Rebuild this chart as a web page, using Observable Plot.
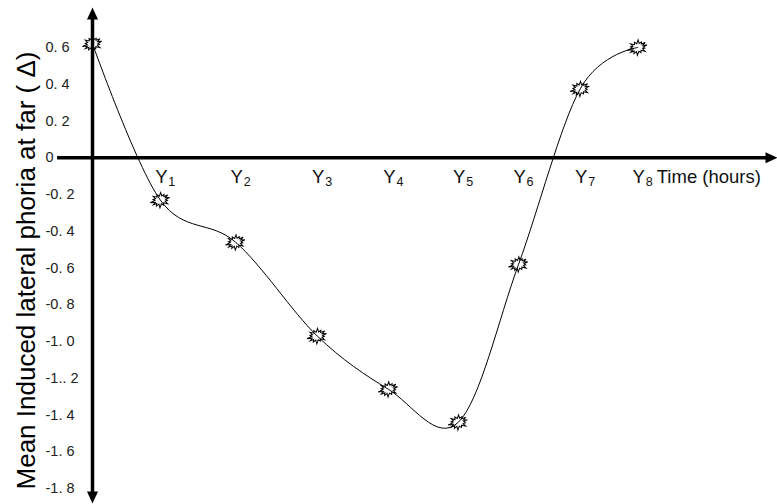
<!DOCTYPE html>
<html>
<head>
<meta charset="utf-8">
<script src="https://cdn.jsdelivr.net/npm/d3@7"></script>
<script src="https://cdn.jsdelivr.net/npm/@observablehq/plot@0.6"></script>
<style>
  html, body { margin: 0; padding: 0; background: #fff; }
  svg { display: block; }
</style>
</head>
<body>
<div id="chart"></div>
<script>
// ---- data ----
const times = [0, 0.99, 2.09, 3.28, 4.32, 5.34, 6.22, 7.12, 7.96];
const phoria = [0.62, -0.23, -0.46, -0.97, -1.26, -1.44, -0.58, 0.375, 0.60];
const timeLabels = ["", "1", "2", "3", "4", "5", "6", "7", "8"];
const yTickValues = [0.6, 0.4, 0.2, 0, -0.2, -0.4, -0.6, -0.8, -1.0, -1.2, -1.4, -1.6, -1.8];
const yTickLabels = ["0. 6", "0. 4", "0. 2", "0", "-0. 2", "-0. 4", "-0. 6", "-0. 8", "-1. 0", "-1.. 2", "-1. 4", "-1. 6", "-1. 8"];
const xAxisExtent = [-0.51, 10];
const yAxisExtent = [-1.882, 0.818];
const xTitle = "Time (hours)";
const yTitle = "Mean Induced lateral phoria at far ( \u0394)";

const points = times.map((t, i) => ({t, v: phoria[i], label: timeLabels[i]}));
const labelled = points.filter(d => d.label !== "");

const font = "Arial, 'Liberation Sans', sans-serif";

// starburst marker symbol
const burst = {
  draw(ctx, size) {
    const r = Math.sqrt(size / Math.PI);
    const n = 14;
    const jit = [1, 0.78, 1.05, 0.86, 1.12, 0.9, 0.95, 1.1, 0.8, 1.02, 0.9, 1.08, 0.84, 1];
    for (let i = 0; i < 2 * n; i++) {
      const a = (i * Math.PI) / n;
      const rad = i % 2 === 0 ? r * jit[i / 2] : r * 0.58;
      const x = rad * Math.cos(a), y = rad * Math.sin(a) * 0.72;
      if (i === 0) ctx.moveTo(x, y); else ctx.lineTo(x, y);
    }
    ctx.closePath();
  }
};
// arrowhead symbol: tip at origin, pointing up
const arrowHead = {
  draw(ctx, size) {
    const s = Math.sqrt(size / Math.PI);
    ctx.moveTo(0, 0);
    ctx.lineTo(s * 0.46, s);
    ctx.lineTo(-s * 0.46, s);
    ctx.closePath();
  }
};

const chart = Plot.plot({
  width: 777,
  height: 504,
  margin: 0,
  style: {background: "#fff", fontFamily: font},
  x: {type: "linear", domain: [0, 10], range: [92, 777], axis: null},
  y: {type: "linear", domain: [0.6, -1.8], range: [47, 488], axis: null},
  marks: [
    // axes lines
    Plot.ruleY([0], {x1: () => xAxisExtent[0], x2: () => xAxisExtent[1] - 0.1, stroke: "#000", strokeWidth: 3.5}),
    Plot.ruleX([0], {y1: () => yAxisExtent[0] + 0.05, y2: () => yAxisExtent[1] - 0.05, stroke: "#000", strokeWidth: 3.5}),
    // arrowheads
    Plot.dot([{x: 0, y: yAxisExtent[1]}], {x: "x", y: "y", symbol: arrowHead, r: 12, fill: "#000", stroke: "none", rotate: 0}),
    Plot.dot([{x: 0, y: yAxisExtent[0]}], {x: "x", y: "y", symbol: arrowHead, r: 12, fill: "#000", stroke: "none", rotate: 180}),
    Plot.dot([{x: xAxisExtent[1], y: 0}], {x: "x", y: "y", symbol: arrowHead, r: 12, fill: "#000", stroke: "none", rotate: 90}),
    // y tick labels
    Plot.text(yTickValues, {y: d => d, text: (d, i) => yTickLabels[i], frameAnchor: "left", dx: 45, textAnchor: "start", fontSize: 14.5, fill: "#222"}),
    // x category labels "Y" + subscript
    Plot.text(labelled, {x: "t", y: () => 0, text: () => "Y", dx: 1, dy: 25, lineAnchor: "bottom", textAnchor: "middle", fontSize: 18.5, fill: "#111"}),
    Plot.text(labelled, {x: "t", y: () => 0, text: "label", dx: 8, dy: 28, lineAnchor: "bottom", textAnchor: "start", fontSize: 12.5, fill: "#111"}),
    Plot.text([xTitle], {x: () => times[times.length - 1], y: () => 0, text: d => d, dx: 19, dy: 25, lineAnchor: "bottom", textAnchor: "start", fontSize: 18.5, fill: "#111"}),
    // y title
    Plot.text([yTitle], {frameAnchor: "left", text: d => d, rotate: -90, dx: 34, dy: 18, lineAnchor: "bottom", textAnchor: "middle", fontSize: 26, fill: "#000"}),
    // data line and markers
    Plot.line(points, {x: "t", y: "v", curve: "cardinal", tension: 0, stroke: "#000", strokeWidth: 1}),
    Plot.dot(points, {x: "t", y: "v", symbol: burst, r: 9.5, fill: "none", stroke: "#000", strokeWidth: 1, rotate: -15})
  ]
});
document.getElementById("chart").appendChild(chart);
</script>
</body>
</html>
